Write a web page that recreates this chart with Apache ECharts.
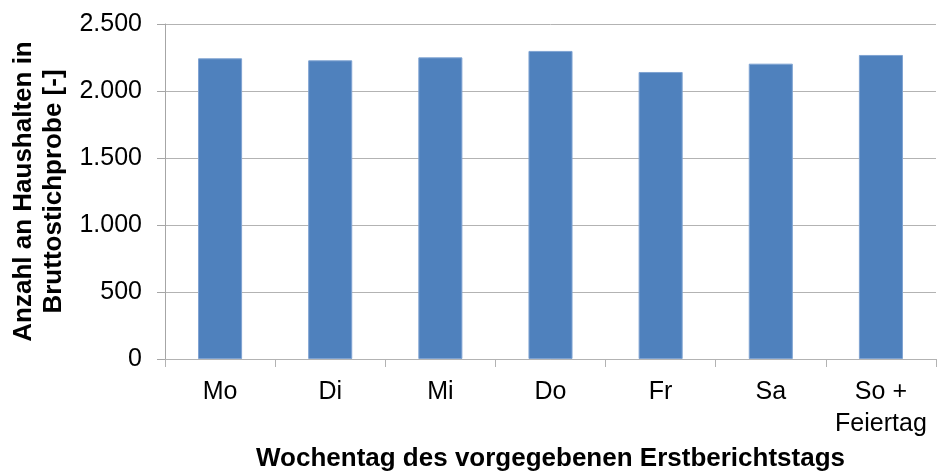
<!DOCTYPE html>
<html>
<head>
<meta charset="utf-8">
<script src="https://cdn.jsdelivr.net/npm/echarts@6/dist/echarts.min.js"></script>
<style>html,body{margin:0;padding:0;background:#fff}#c{width:937px;height:471px}</style>
</head>
<body>
<div id="c"></div>
<script>
const categories = ['Mo', 'Di', 'Mi', 'Do', 'Fr', 'Sa', 'So +\nFeiertag'];
const values = [2244, 2229, 2251, 2299, 2142, 2204, 2269];
const yTicks = [0, 500, 1000, 1500, 2000, 2500];
const xTitle = 'Wochentag des vorgegebenen Erstberichtstags';
const yTitle = 'Anzahl an Haushalten in\nBruttostichprobe [-]';

function fmt(v) {
  return String(v).replace(/\B(?=(\d{3})+(?!\d))/g, '.');
}

const chart = echarts.init(document.getElementById('c'), null, {renderer: 'canvas'});
chart.setOption({
  animation: false,
  backgroundColor: '#fff',
  textStyle: {fontFamily: '"Liberation Sans", Arial, sans-serif'},
  grid: {left: 165, right: 1, top: 24, bottom: 112, containLabel: false, outerBoundsMode: 'none'},
  xAxis: {
    type: 'category',
    data: categories,
    axisLine: {show: true, lineStyle: {color: '#B3B3B3', width: 1}},
    axisTick: {show: true, length: 8, alignWithLabel: false, lineStyle: {color: '#B3B3B3'}},
    axisLabel: {color: '#000', fontSize: 25, margin: 17, lineHeight: 32, interval: 0,
      fontFamily: '"Liberation Sans", Arial, sans-serif'},
    name: xTitle,
    nameLocation: 'middle',
    nameGap: 87,
    nameTextStyle: {color: '#000', fontSize: 26, fontWeight: 'bold',
      fontFamily: '"Liberation Sans", Arial, sans-serif'}
  },
  yAxis: {
    type: 'value',
    min: yTicks[0],
    max: yTicks[yTicks.length - 1],
    interval: 500,
    axisLine: {show: true, lineStyle: {color: '#A6A6A6', width: 1}},
    axisTick: {show: true, length: 8, lineStyle: {color: '#A6A6A6'}},
    splitLine: {show: true, lineStyle: {color: '#B3B3B3', width: 1}},
    axisLabel: {color: '#000', fontSize: 25, margin: 23, formatter: fmt,
      fontFamily: '"Liberation Sans", Arial, sans-serif'},
    name: yTitle,
    nameLocation: 'middle',
    nameGap: 95,
    nameRotate: 90,
    nameTextStyle: {color: '#000', fontSize: 26, fontWeight: 'bold', lineHeight: 30, align: 'center',
      fontFamily: '"Liberation Sans", Arial, sans-serif'}
  },
  series: [{
    type: 'bar',
    data: values,
    barWidth: '40%',
    itemStyle: {color: '#4F81BD', borderColor: '#7FA3D2', borderWidth: 1}
  }]
});
</script>
</body>
</html>
